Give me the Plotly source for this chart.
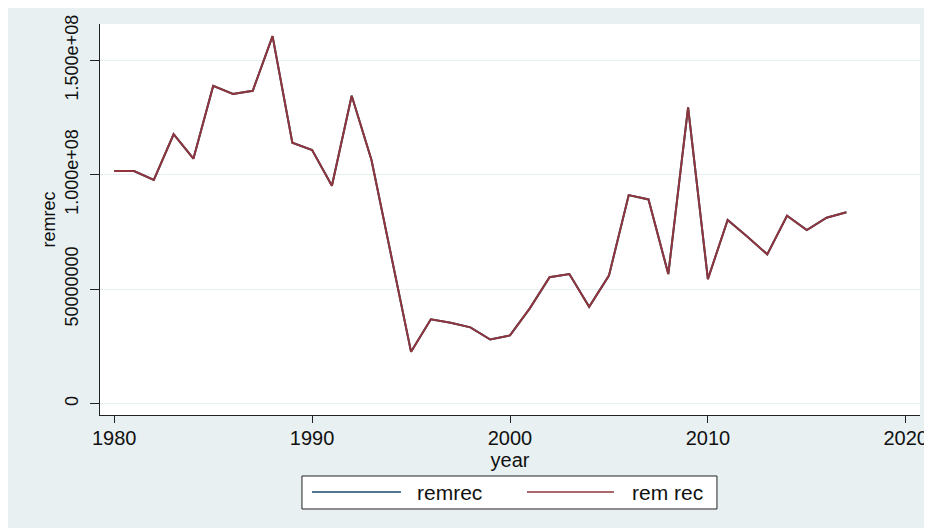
import plotly.graph_objects as go

years = list(range(1980, 2018))
remrec = [
    1.016e8, 1.016e8, 9.77e7, 1.177e8, 1.070e8, 1.388e8, 1.353e8, 1.367e8,
    1.606e8, 1.140e8, 1.108e8, 9.52e7, 1.345e8, 1.064e8, 6.45e7, 2.26e7,
    3.68e7, 3.53e7, 3.33e7, 2.80e7, 2.98e7, 4.16e7, 5.52e7, 5.66e7,
    4.23e7, 5.59e7, 9.11e7, 8.92e7, 5.66e7, 1.2945e8, 5.44e7, 8.02e7,
    7.29e7, 6.52e7, 8.21e7, 7.58e7, 8.12e7, 8.36e7,
]
series_names = ["remrec", "rem rec"]
series_colors = ["#1A476F", "#90353B"]

y_tickvals = [0, 5e7, 1e8, 1.5e8]
y_ticktext = ["0", "50000000", "1.000e+08", "1.500e+08"]
x_tickvals = [1980, 1990, 2000, 2010, 2020]

FONT = "Liberation Sans, Arial, sans-serif"
BG = "#E8F0F2"

fig = go.Figure()
for name, color in zip(series_names, series_colors):
    fig.add_trace(
        go.Scatter(
            x=years,
            y=remrec,
            mode="lines",
            name=name,
            line=dict(color=color, width=2),
        )
    )

# hand-made legend box (stata style: long line samples, boxed, centred below)
shapes = [
    dict(type="rect", xref="paper", yref="paper", x0=0.2463, x1=0.7524,
         y0=-0.2404, y1=-0.156, fillcolor="white",
         line=dict(color="#222222", width=1)),
]
annotations = []
legend_x = [(0.2585, 0.367, 0.3841), (0.5207, 0.6268, 0.6463)]
for (x0, x1, xt), name, color in zip(legend_x, series_names, series_colors):
    shapes.append(dict(type="line", xref="paper", yref="paper", x0=x0, x1=x1,
                       y0=-0.197, y1=-0.197, line=dict(color=color, width=1.5)))
    annotations.append(dict(xref="paper", yref="paper", x=xt, y=-0.197,
                            text=name, showarrow=False, xanchor="left",
                            yanchor="middle", font=dict(size=21, color="#111111")))

# page body has an 8px margin, so the figure is 8px smaller
fig.update_layout(
    width=924,
    height=520,
    paper_bgcolor=BG,
    plot_bgcolor="white",
    showlegend=False,
    font=dict(family=FONT, color="#111111"),
    margin=dict(l=92, r=12, t=16, b=113),
    shapes=shapes,
    annotations=annotations,
)

fig.update_xaxes(
    automargin=False,
    range=[1979.28, 2020.72],
    tickvals=x_tickvals,
    ticks="outside",
    ticklen=7,
    ticklabelstandoff=-2,
    tickcolor="#222222",
    tickfont=dict(size=20),
    showline=True,
    linecolor="#222222",
    linewidth=1,
    showgrid=False,
    zeroline=False,
    title=dict(text="year", font=dict(size=20), standoff=0),
)

fig.update_yaxes(
    automargin=False,
    range=[-5.0e6, 1.6587e8],
    tickvals=y_tickvals,
    ticktext=y_ticktext,
    tickangle=-90,
    ticks="outside",
    ticklen=9,
    ticklabelstandoff=5,
    tickcolor="#222222",
    tickfont=dict(size=18),
    showline=True,
    linecolor="#222222",
    linewidth=1,
    showgrid=True,
    gridcolor="#E6EFF1",
    gridwidth=1,
    zeroline=False,
    title=dict(text="remrec", font=dict(size=18), standoff=1),
)

fig.write_html("out.html")
